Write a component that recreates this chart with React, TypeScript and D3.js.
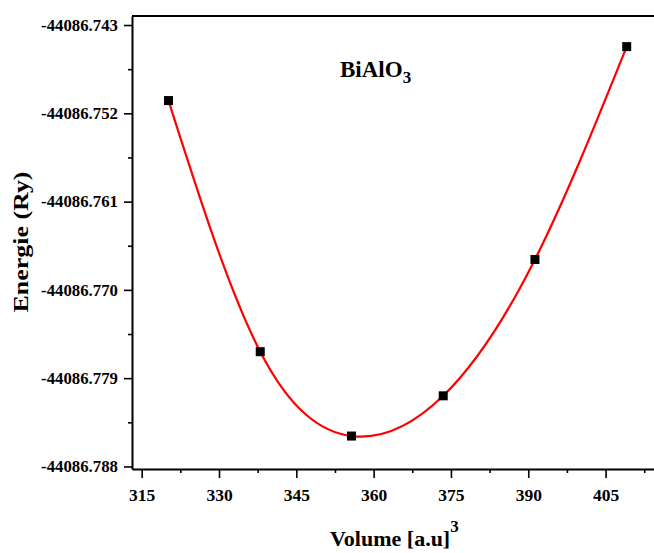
import React, { useEffect, useRef } from 'react';
import * as d3 from 'd3';

// Measured data points
const volumes = [320.2, 338.0, 355.7, 373.5, 391.3, 409.1];
const energies = [-44086.7507, -44086.7763, -44086.7849, -44086.7808, -44086.7669, -44086.7452];

const xTicks = [315, 330, 345, 360, 375, 390, 405];
const xMinorTicks = [322.5, 337.5, 352.5, 367.5, 382.5, 397.5, 412.5];
const yTicks = [-44086.743, -44086.752, -44086.761, -44086.77, -44086.779, -44086.788];
const yMinorTicks = [-44086.7475, -44086.7565, -44086.7655, -44086.7745, -44086.7835];

const xDomain = [313.12, 417.5];
const yDomain = [-44086.78826, -44086.74208];

const FONT = '"Liberation Serif", "Times New Roman", serif';

export default function App() {
  const ref = useRef<SVGSVGElement>(null);

  useEffect(() => {
    const svg = d3.select(ref.current);
    svg.selectAll('*').remove();

    const left = 132, top = 16, bottom = 469, right = 670;
    const x = d3.scaleLinear().domain(xDomain).range([left, right]);
    const y = d3.scaleLinear().domain(yDomain).range([bottom, top]);

    svg.append('rect').attr('width', 654).attr('height', 553).attr('fill', '#fff');

    svg.append('line').attr('x1', left).attr('x2', right).attr('y1', top).attr('y2', top)
      .attr('stroke', '#000').attr('stroke-width', 2);

    const xMinor = d3.axisBottom(x).tickValues(xMinorTicks).tickSize(4).tickFormat(() => '').tickSizeOuter(0);
    svg.append('g').attr('transform', `translate(0,${bottom})`).call(xMinor)
      .call(g => g.select('.domain').remove())
      .selectAll('line').attr('stroke', '#000').attr('stroke-width', 1.6);
    const yMinor = d3.axisLeft(y).tickValues(yMinorTicks).tickSize(4).tickFormat(() => '').tickSizeOuter(0);
    svg.append('g').attr('transform', `translate(${left},0)`).call(yMinor)
      .call(g => g.select('.domain').remove())
      .selectAll('line').attr('stroke', '#000').attr('stroke-width', 1.6);

    const xAxis = d3.axisBottom(x).tickValues(xTicks).tickSize(9).tickSizeOuter(0).tickFormat(d3.format('d'));
    const gx = svg.append('g').attr('transform', `translate(0,${bottom})`).call(xAxis);
    gx.select('.domain').attr('stroke', '#000').attr('stroke-width', 2);
    gx.selectAll('.tick line').attr('stroke', '#000').attr('stroke-width', 1.6);
    gx.selectAll('.tick text')
      .attr('y', 32).attr('dy', 0)
      .attr('font-family', FONT).attr('font-weight', 'bold').attr('font-size', 17.5)
      .attr('fill', '#000');

    const fmt = (d: number) => d.toFixed(3).replace('\u2212', '-');
    const yAxis = d3.axisLeft(y).tickValues(yTicks).tickSize(8).tickPadding(6).tickSizeOuter(0).tickFormat(fmt as any);
    const gy = svg.append('g').attr('transform', `translate(${left},0)`).call(yAxis);
    gy.select('.domain').attr('stroke', '#000').attr('stroke-width', 2);
    gy.selectAll('.tick line').attr('stroke', '#000').attr('stroke-width', 1.6);
    gy.selectAll('.tick text')
      .attr('font-family', FONT).attr('font-weight', 'bold').attr('font-size', 16.8)
      .attr('fill', '#000');

    // fitted curve: smooth spline through the measured points
    const pts = volumes.map((v, i) => [v, energies[i]] as [number, number]);
    const line = d3.line<[number, number]>().x(d => x(d[0])).y(d => y(d[1])).curve(d3.curveNatural);
    svg.append('path').attr('d', line(pts)).attr('fill', 'none').attr('stroke', '#ff0000').attr('stroke-width', 2.2);

    const s = 9;
    svg.selectAll('rect.pt').data(pts)
      .enter().append('rect').attr('class', 'pt')
      .attr('x', d => x(d[0]) - s / 2).attr('y', d => y(d[1]) - s / 2)
      .attr('width', s).attr('height', s).attr('fill', '#000');

    const lbl = svg.append('text').attr('x', 340).attr('y', 77)
      .attr('font-family', FONT).attr('font-weight', 'bold').attr('font-size', 23).attr('fill', '#000');
    lbl.append('tspan').text('BiAlO');
    lbl.append('tspan').attr('dy', 6).attr('font-size', 17).text('3');

    const xt = svg.append('text').attr('x', 330).attr('y', 546)
      .attr('font-family', FONT).attr('font-weight', 'bold').attr('font-size', 22).attr('fill', '#000');
    xt.append('tspan').text('Volume [a.u]');
    xt.append('tspan').attr('dy', -14).attr('font-size', 17).text('3');

    svg.append('text').attr('transform', 'translate(28,242) rotate(-90)')
      .attr('text-anchor', 'middle')
      .attr('font-family', FONT).attr('font-weight', 'bold').attr('font-size', 21).attr('fill', '#000')
      .attr('textLength', 141).attr('lengthAdjust', 'spacingAndGlyphs')
      .text('Energie (Ry)');
  }, []);

  return (
    <svg ref={ref} width={654} height={553} style={{ position: 'absolute', left: 0, top: 0 }} />
  );
}
